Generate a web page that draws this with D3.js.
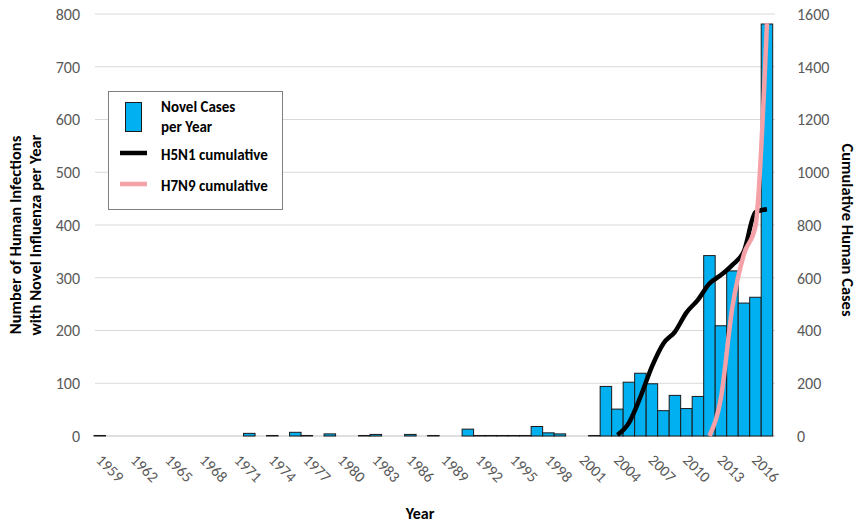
<!DOCTYPE html>
<html><head><meta charset="utf-8">
<script src="https://cdn.jsdelivr.net/npm/d3@7/dist/d3.min.js"></script>
<style>
html,body{margin:0;padding:0;background:#fff;}
svg{display:block;font-family:Carlito,Calibri,Lato,sans-serif;}
</style></head>
<body>
<svg id="chart" width="857" height="522"></svg>
<script>
// ---- data ----
const years = d3.range(1959, 2018);
const caseYears = [1959,1972,1974,1976,1977,1979,1982,1983,1986,1988,1991,1992,1993,1994,1995,1996,1997,1998,1999,2002,
  2003,2004,2005,2006,2007,2008,2009,2010,2011,2012,2013,2014,2015,2016,2017];
const caseValues = [1,5,1,7,1,4,1,3,3,1,13,1,1,1,1,1,18,6,4,1,
  94,51,102,119,99,48,77,52,75,342,209,313,252,263,781];
const h5n1Years = [2004,2005,2006,2007,2008,2009,2010,2011,2012,2013,2014,2015,2016,2017];
const h5n1Cum = [4,50,148,263,351,395,468,516,578,610,649,701,848,860];
const h7n9Years = [2012,2013,2014,2015,2016,2017];
const h7n9Cum = [0,145,490,690,795,1565];
const tickYears = years.filter(y => (y - 1959) % 3 === 0);
const leftTicks = d3.range(0, 801, 100);
const rightTicks = d3.range(0, 1601, 200);

// ---- chart ----
const svg = d3.select('#chart');
const x = d3.scaleBand().domain(years).range([94, 772.7]).padding(0);
const yL = d3.scaleLinear().domain([0, 800]).range([436, 14]);
const yR = d3.scaleLinear().domain([0, 1600]).range([436, 14]);
const cx = yr => x(yr) + x.bandwidth() / 2;

// grid
svg.append('g').selectAll('line').data(leftTicks.filter(d => d > 0)).join('line')
  .attr('x1', 95).attr('x2', 775).attr('y1', d => yL(d)).attr('y2', d => yL(d))
  .attr('stroke', '#d9d9d9').attr('stroke-width', 1);
svg.append('line').attr('x1', 95).attr('x2', 775).attr('y1', yL(0)).attr('y2', yL(0))
  .attr('stroke', '#bfbfbf').attr('stroke-width', 1);

// bars
svg.append('g').selectAll('rect').data(caseYears.map((y, i) => ({y, v: caseValues[i]}))).join('rect')
  .attr('x', d => x(d.y)).attr('width', x.bandwidth())
  .attr('y', d => yL(d.v)).attr('height', d => yL(0) - yL(d.v))
  .attr('fill', '#00b0f0').attr('stroke', '#1a1a1a').attr('stroke-width', 1);

// lines
const curve = d3.curveMonotoneX;
svg.append('path').datum(h5n1Years.map((y, i) => [cx(y), yR(h5n1Cum[i])]))
  .attr('d', d3.line().curve(curve)).attr('fill', 'none')
  .attr('stroke', '#000').attr('stroke-width', 4.5).attr('stroke-linejoin', 'round');
svg.append('path').datum(h7n9Years.map((y, i) => [cx(y), yR(h7n9Cum[i])]))
  .attr('d', d3.line().curve(curve)).attr('fill', 'none')
  .attr('stroke', '#f4a1a7').attr('stroke-width', 4.5).attr('stroke-linejoin', 'round');

// left axis labels
svg.append('g').selectAll('text').data(leftTicks).join('text')
  .attr('x', 80).attr('y', d => yL(d)).attr('dy', '0.36em')
  .attr('text-anchor', 'end').attr('fill', '#595959').attr('font-size', 16)
  .text(d => d);
// right axis labels
svg.append('g').selectAll('text').data(rightTicks).join('text')
  .attr('x', 797).attr('y', d => yR(d)).attr('dy', '0.36em')
  .attr('text-anchor', 'start').attr('fill', '#595959').attr('font-size', 16)
  .text(d => d);
// x labels
svg.append('g').selectAll('text').data(tickYears).join('text')
  .attr('transform', d => `translate(${cx(d) - 4.5},${461}) rotate(45)`)
  .attr('text-anchor', 'start').attr('fill', '#595959').attr('font-size', 15.5)
  .text(d => d);

// axis titles
svg.append('text').attr('transform', 'translate(21,235) rotate(-90)')
  .attr('text-anchor', 'middle').attr('font-weight', 'bold').attr('font-size', 16.5)
  .attr('fill', '#000').text('Number of Human Infections');
svg.append('text').attr('transform', 'translate(41,235) rotate(-90)')
  .attr('text-anchor', 'middle').attr('font-weight', 'bold').attr('font-size', 16.5)
  .attr('fill', '#000').text('with Novel Influenza per Year');
svg.append('text').attr('transform', 'translate(842,230) rotate(90)')
  .attr('text-anchor', 'middle').attr('font-weight', 'bold').attr('font-size', 16.5)
  .attr('fill', '#000').text('Cumulative Human Cases');
svg.append('text').attr('x', 420).attr('y', 519)
  .attr('text-anchor', 'middle').attr('font-weight', 'bold').attr('font-size', 16)
  .attr('fill', '#000').text('Year');

// legend
const lg = svg.append('g');
lg.append('rect').attr('x', 108.5).attr('y', 91.5).attr('width', 174).attr('height', 118)
  .attr('fill', '#fff').attr('stroke', '#7f7f7f').attr('stroke-width', 1);
lg.append('rect').attr('x', 125.5).attr('y', 102.5).attr('width', 16).attr('height', 29)
  .attr('fill', '#00b0f0').attr('stroke', '#1a1a1a').attr('stroke-width', 1);
lg.append('line').attr('x1', 120).attr('x2', 147).attr('y1', 153).attr('y2', 153)
  .attr('stroke', '#000').attr('stroke-width', 4.5);
lg.append('line').attr('x1', 120).attr('x2', 147).attr('y1', 184).attr('y2', 184)
  .attr('stroke', '#f4a1a7').attr('stroke-width', 4.5);
const lt = [['Novel Cases', 112], ['per Year', 132], ['H5N1 cumulative', 160], ['H7N9 cumulative', 191]];
lg.selectAll('text.lt').data(lt).join('text').attr('class', 'lt')
  .attr('x', 161).attr('y', d => d[1]).attr('font-weight', 'bold').attr('font-size', 15)
  .attr('fill', '#000').text(d => d[0]);
</script>
</body></html>
